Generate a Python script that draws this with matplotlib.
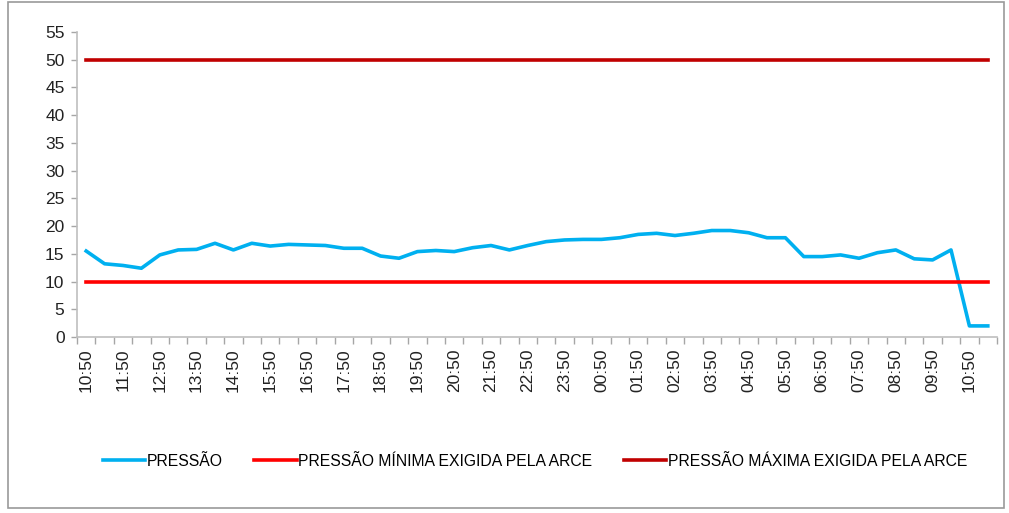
import matplotlib
matplotlib.use('Agg')
import matplotlib.pyplot as plt
from matplotlib.patches import Rectangle
from matplotlib.ticker import MultipleLocator, FixedLocator

plt.rcParams['font.family'] = ['Liberation Sans', 'DejaVu Sans']

# leituras a cada 30 minutos, de 10:50 até 11:20 do dia seguinte
horas = []
for i in range(50):
    minutos = 10 * 60 + 50 + 30 * i
    horas.append('%02d:%02d' % ((minutos // 60) % 24, minutos % 60))

pressao = [15.5, 13.2, 12.9, 12.4, 14.8, 15.7, 15.8, 16.9, 15.7, 16.9,
           16.4, 16.7, 16.6, 16.5, 16.0, 16.0, 14.6, 14.2, 15.4, 15.6,
           15.4, 16.1, 16.5, 15.7, 16.5, 17.2, 17.5, 17.6, 17.6, 17.9,
           18.5, 18.7, 18.3, 18.7, 19.2, 19.2, 18.8, 17.9, 17.9, 14.5,
           14.5, 14.8, 14.2, 15.2, 15.7, 14.1, 13.9, 15.7, 2.0, 2.0]
pressao_min = [10] * 50
pressao_max = [50] * 50

rotulos = ['PRESSÃO', 'PRESSÃO MÍNIMA EXIGIDA PELA ARCE', 'PRESSÃO MÁXIMA EXIGIDA PELA ARCE']

W, H = 1009, 513
fig = plt.figure(figsize=(W / 100, H / 100), dpi=100)

# moldura do gráfico (estilo Excel)
fig.patches.append(Rectangle((8 / W, 5 / H), 996 / W, 506 / H, transform=fig.transFigure,
                             fill=False, edgecolor='#9a9a9a', linewidth=1.2))

ax = fig.add_axes([77 / W, 1 - 337 / H, 920 / W, 305 / H])
x = list(range(len(horas)))
ax.plot(x, pressao, color='#00B0F0', linewidth=2.6, label=rotulos[0])
ax.plot(x, pressao_min, color='#FF0000', linewidth=2.6, label=rotulos[1])
ax.plot(x, pressao_max, color='#C00000', linewidth=2.6, label=rotulos[2])

ax.set_xlim(-0.5, len(horas) - 0.5)
ax.set_ylim(0, 55)
ax.yaxis.set_major_locator(MultipleLocator(5))

ax.set_xticks(x[::2])
ax.set_xticklabels(horas[::2], rotation=90, fontsize=12.5, color='#222222')
ax.xaxis.set_minor_locator(FixedLocator([i - 0.5 for i in range(len(horas) + 1)]))
ax.tick_params(axis='x', which='major', length=0, pad=8)
ax.tick_params(axis='x', which='minor', length=5, color='#a6a6a6', width=1)
ax.tick_params(axis='y', length=4, color='#a6a6a6', width=1, labelsize=12.5,
               labelcolor='#222222', pad=5)

for lado in ['top', 'right']:
    ax.spines[lado].set_visible(False)
for lado in ['left', 'bottom']:
    ax.spines[lado].set_color('#bfbfbf')
    ax.spines[lado].set_linewidth(1.2)

fig.legend(loc='center', bbox_to_anchor=(535 / W, 1 - 461 / H), ncol=3, frameon=False,
           fontsize=11.3, handlelength=2.7, handletextpad=0.1, columnspacing=2.0)

fig.savefig('out.png', dpi=100)
